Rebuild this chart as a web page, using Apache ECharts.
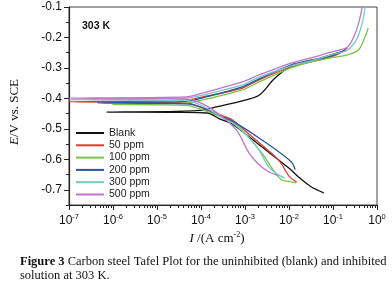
<!DOCTYPE html>
<html>
<head>
<meta charset="utf-8">
<script src="https://cdn.jsdelivr.net/npm/echarts@6/dist/echarts.min.js"></script>
<style>
  html, body { margin: 0; padding: 0; background: #fff; }
  #tafel { width: 392px; height: 282px; }
</style>
</head>
<body>
<div id="tafel"></div>
<script>
// Tafel plot, 303 K
// each point is [log10(I / A cm-2), E / V vs SCE], in drawing order:
// cathodic end -> Ecorr -> low current dip -> back -> anodic end
var seriesNames = ['Blank', '50 ppm', '100 ppm', '200 ppm', '300 ppm', '500 ppm'];
var seriesColors = ['#111111', '#e53a2e', '#7cc243', '#2a55a3', '#6fcbcc', '#c474c8'];

var blank = [[-1.21,-0.710],[-1.50,-0.690],[-1.79,-0.657],[-2.01,-0.628],[-2.62,-0.559],[-3.29,-0.484],[-3.58,-0.467],[-3.85,-0.448],[-4.56,-0.446],[-6.15,-0.445],
  [-4.56,-0.443],[-3.89,-0.438],[-3.73,-0.431],[-3.06,-0.408],[-2.68,-0.390],[-2.33,-0.335],[-1.95,-0.293],[-1.43,-0.274],[-1.05,-0.257],[-0.72,-0.244]];
var ppm50 = [[-1.83,-0.674],[-1.99,-0.657],[-2.24,-0.602],[-2.84,-0.526],[-3.29,-0.470],[-3.51,-0.457],[-3.96,-0.431],[-4.34,-0.415],[-7.0,-0.411],
  [-4.34,-0.406],[-3.96,-0.395],[-3.06,-0.366],[-2.68,-0.339],[-1.95,-0.297],[-1.50,-0.280],[-1.05,-0.264],[-0.83,-0.251],[-0.67,-0.234]];
var ppm100 = [[-1.83,-0.677],[-1.95,-0.674],[-2.17,-0.667],[-2.33,-0.641],[-2.62,-0.579],[-3.18,-0.487],[-3.51,-0.464],[-3.96,-0.438],[-4.34,-0.423],[-6.02,-0.420],
  [-4.34,-0.415],[-3.96,-0.405],[-3.06,-0.372],[-2.68,-0.346],[-1.95,-0.300],[-1.50,-0.280],[-1.05,-0.267],[-0.67,-0.257],[-0.42,-0.241],[-0.27,-0.198],[-0.20,-0.169]];
var ppm200 = [[-1.86,-0.634],[-1.95,-0.608],[-2.62,-0.536],[-3.29,-0.474],[-3.51,-0.461],[-3.96,-0.431],[-4.34,-0.418],[-6.35,-0.415],
  [-4.34,-0.410],[-3.96,-0.398],[-3.06,-0.362],[-2.68,-0.336],[-1.95,-0.290],[-1.50,-0.274],[-1.05,-0.261],[-0.72,-0.241]];
var ppm300 = [[-2.10,-0.661],[-2.24,-0.651],[-2.46,-0.625],[-2.73,-0.559],[-3.22,-0.487],[-3.51,-0.464],[-3.96,-0.425],[-4.34,-0.407],[-7.0,-0.404],
  [-4.34,-0.398],[-3.96,-0.389],[-3.06,-0.356],[-2.68,-0.330],[-1.95,-0.293],[-1.50,-0.277],[-1.05,-0.257],[-0.67,-0.241],[-0.45,-0.202],[-0.335,-0.152],[-0.27,-0.100]];
var ppm500 = [[-2.24,-0.654],[-2.46,-0.641],[-2.68,-0.618],[-2.91,-0.579],[-3.18,-0.507],[-3.51,-0.461],[-3.96,-0.418],[-4.34,-0.402],[-7.0,-0.399],
  [-4.34,-0.395],[-3.96,-0.382],[-3.06,-0.346],[-2.68,-0.323],[-1.95,-0.284],[-1.50,-0.267],[-1.05,-0.248],[-0.67,-0.231],[-0.49,-0.185],[-0.40,-0.143],[-0.335,-0.100]];

var curves = [blank, ppm50, ppm100, ppm200, ppm300, ppm500];

// axis ticks
var xTicks = [1e-7, 1e-6, 1e-5, 1e-4, 1e-3, 1e-2, 1e-1, 1];
var yTicks = [-0.7, -0.6, -0.5, -0.4, -0.3, -0.2, -0.1];
var yMinor = [-0.75, -0.65, -0.55, -0.45, -0.35, -0.25, -0.15];
var xMinor = [];
for (var d = -7; d < 0; d++) {
  for (var m = 2; m <= 9; m++) xMinor.push(m * Math.pow(10, d));
}

var tafelChart = echarts.init(document.getElementById('tafel'));

var series = curves.map(function (pts, i) {
  return {
    name: seriesNames[i],
    type: 'line',
    xAxisIndex: 0,
    yAxisIndex: 0,
    data: pts.map(function (p) { return [Math.pow(10, p[0]), p[1]]; }),
    showSymbol: false,
    symbol: 'none',
    smooth: 0.3,
    lineStyle: { width: 1.3, color: seriesColors[i] },
    itemStyle: { color: seriesColors[i] },
    animation: false
  };
});

var option = {
  animation: false,
  color: seriesColors,
  title: {
    text: '303 K',
    left: 77,
    top: 16,
    textStyle: { fontSize: 10.5, fontWeight: 'bold', color: '#111', fontFamily: 'Liberation Sans' }
  },
  legend: {
    orient: 'vertical',
    left: 71,
    top: 122,
    icon: 'rect',
    itemWidth: 28,
    itemHeight: 2,
    itemGap: 0.3,
    data: seriesNames,
    textStyle: { fontSize: 10.5, lineHeight: 12, color: '#222', fontFamily: 'Liberation Sans' }
  },
  grid: {
    left: 64,
    right: 15,
    top: 7,
    bottom: 77,
    show: true,
    borderColor: '#444',
    borderWidth: 1
  },
  xAxis: [
    {
      type: 'log',
      logBase: 10,
      min: 1e-7,
      max: 1,
      name: '{i|I} /(A cm{s|-2})',
      nameLocation: 'middle',
      nameGap: 23,
      nameTextStyle: {
        fontFamily: 'Liberation Serif', fontSize: 13, color: '#111', padding: [0, 12, 0, 0],
        rich: {
          i: { fontStyle: 'italic', fontFamily: 'Liberation Serif', fontSize: 13 },
          s: { fontSize: 8, fontFamily: 'Liberation Serif', padding: [0, 0, 7, 0] }
        }
      },
      axisLine: { lineStyle: { color: '#222', width: 1.2 } },
      axisTick: { customValues: xTicks, length: 5, inside: false, lineStyle: { color: '#222' } },
      axisLabel: {
        customValues: xTicks,
        margin: 8,
        formatter: function (v) {
          return '{b|10}{s|' + Math.round(Math.log10(v)) + '}';
        },
        rich: {
          b: { fontSize: 12, fontFamily: 'Liberation Sans', color: '#111' },
          s: { fontSize: 7.5, fontFamily: 'Liberation Sans', color: '#111', padding: [0, 0, 7, 0] }
        }
      },
      splitLine: { show: false }
    },
    {
      type: 'log',
      logBase: 10,
      min: 1e-7,
      max: 1,
      gridIndex: 0,
      position: 'bottom',
      axisLine: { show: false },
      axisTick: { customValues: xMinor, length: 3, lineStyle: { color: '#222' } },
      axisLabel: { show: false },
      splitLine: { show: false }
    }
  ],
  yAxis: [
    {
      type: 'value',
      min: -0.75,
      max: -0.1,
      name: '{i|E}/V vs. SCE',
      nameLocation: 'middle',
      nameGap: 48,
      nameTextStyle: {
        fontFamily: 'Liberation Serif', fontSize: 13, color: '#111', padding: [0, 12, 0, 0],
        rich: { i: { fontStyle: 'italic', fontFamily: 'Liberation Serif', fontSize: 13 } }
      },
      axisLine: { show: true, lineStyle: { color: '#222', width: 1.2 } },
      axisTick: { show: true, customValues: yTicks, length: 5, lineStyle: { color: '#222' } },
      axisLabel: {
        customValues: yTicks,
        margin: 7,
        fontSize: 12,
        fontFamily: 'Liberation Sans',
        color: '#111',
        formatter: function (v) { return v.toFixed(1); }
      },
      splitLine: { show: false }
    },
    {
      type: 'value',
      min: -0.75,
      max: -0.1,
      gridIndex: 0,
      position: 'left',
      axisLine: { show: false },
      axisTick: { show: true, customValues: yMinor, length: 3, lineStyle: { color: '#222' } },
      axisLabel: { show: false },
      splitLine: { show: false }
    }
  ],
  graphic: [
    {
      type: 'text',
      left: 20,
      top: 255,
      style: {
        text: '{b|Figure 3} Carbon steel Tafel Plot for the uninhibited (blank) and inhibited',
        font: '12.5px "Liberation Serif"',
        fill: '#111',
        rich: { b: { fontWeight: 'bold', fontSize: 12.5, fontFamily: 'Liberation Serif' } }
      }
    },
    {
      type: 'text',
      left: 20,
      top: 269,
      style: { text: 'solution at 303 K.', font: '12.5px "Liberation Serif"', fill: '#111' }
    }
  ],
  series: series
};

tafelChart.setOption(option);
</script>
</body>
</html>
